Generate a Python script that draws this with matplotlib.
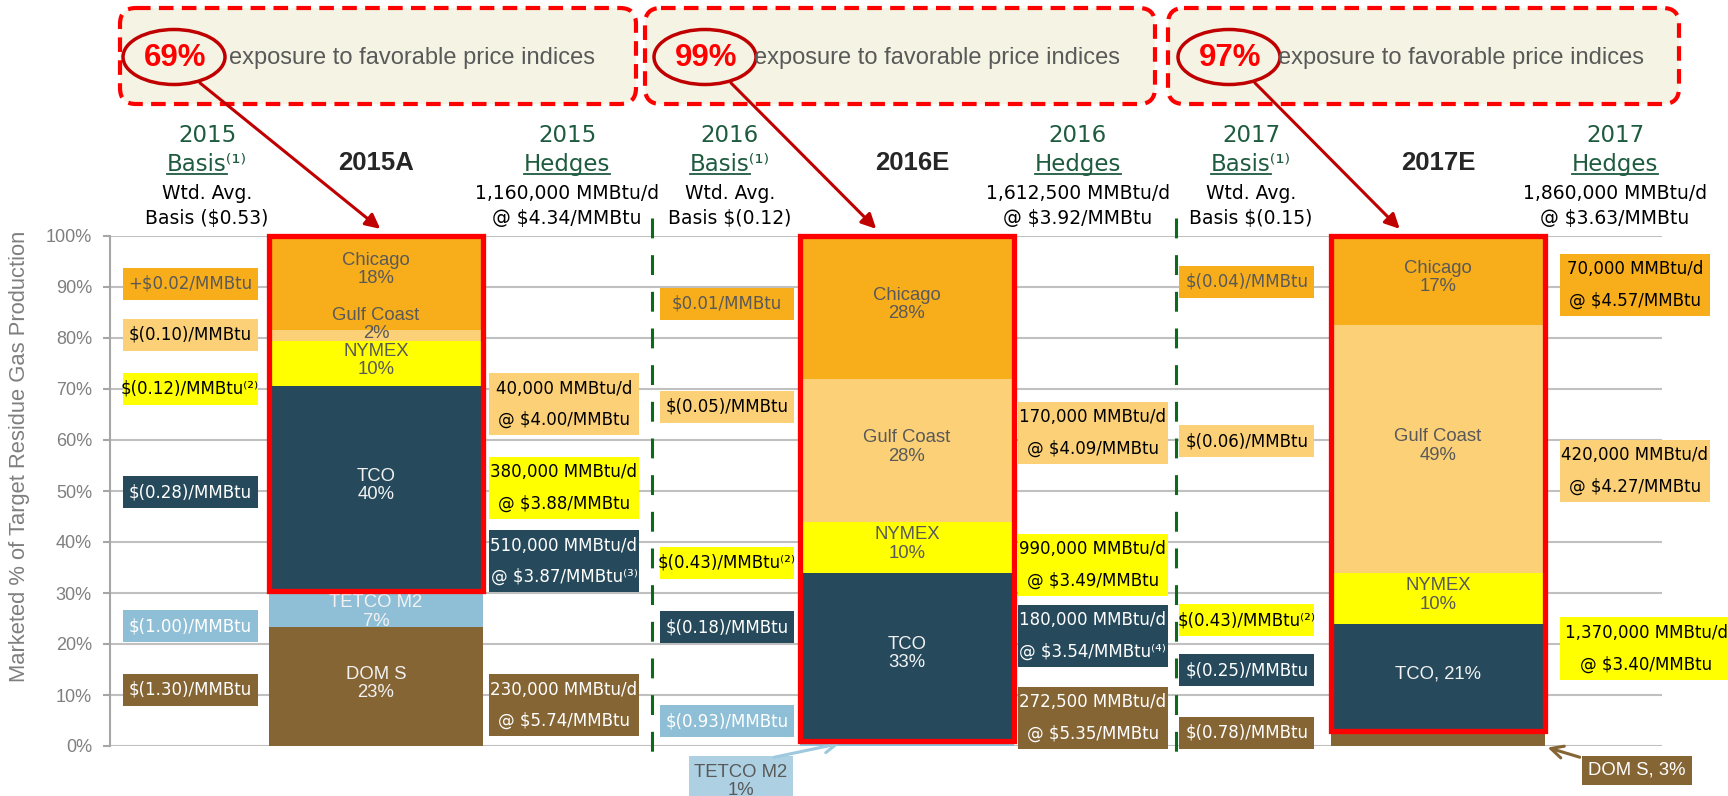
import numpy as np
import matplotlib
matplotlib.use("Agg")
import matplotlib.pyplot as plt
from matplotlib.patches import Rectangle, FancyBboxPatch, Ellipse

plt.rcParams['font.family'] = ['Liberation Sans', 'DejaVu Sans']

# ---------------- data ----------------
years = ["2015A", "2016E", "2017E"]
header_years = ["2015", "2016", "2017"]
exposure = ["69%", "99%", "97%"]

segments = ["DOM S", "TETCO M2", "TCO", "NYMEX", "Gulf Coast", "Chicago"]
dom_s = [23.3, 0.0, 3.0]
tetco_m2 = [7.1, 1.0, 0.0]
tco = [40.2, 33.0, 21.0]
nymex = [8.8, 10.0, 10.0]
gulf_coast = [2.2, 28.0, 48.5]
chicago = [18.4, 28.0, 17.5]

labels_2015 = ["DOM S\n23%", "TETCO M2\n7%", "TCO\n40%", "NYMEX\n10%", "Gulf Coast\n2%", "Chicago\n18%"]
labels_2016 = ["", "", "TCO\n33%", "NYMEX\n10%", "Gulf Coast\n28%", "Chicago\n28%"]
labels_2017 = ["", "", "TCO, 21%", "NYMEX\n10%", "Gulf Coast\n49%", "Chicago\n17%"]

wtd_avg_basis = ["Basis ($0.53)", "Basis $(0.12)", "Basis $(0.15)"]
hedge_volume = ["1,160,000 MMBtu/d", "1,612,500 MMBtu/d", "1,860,000 MMBtu/d"]
hedge_price = ["@ $4.34/MMBtu", "@ $3.92/MMBtu", "@ $3.63/MMBtu"]

basis_2015 = ["+$0.02/MMBtu", "$(0.10)/MMBtu", "$(0.12)/MMBtu⁽²⁾", "$(0.28)/MMBtu",
              "$(1.00)/MMBtu", "$(1.30)/MMBtu"]
basis_2015_index = ["Chicago", "Gulf Coast", "NYMEX", "TCO", "TETCO M2", "DOM S"]
basis_2016 = ["$0.01/MMBtu", "$(0.05)/MMBtu", "$(0.43)/MMBtu⁽²⁾", "$(0.18)/MMBtu", "$(0.93)/MMBtu"]
basis_2016_index = ["Chicago", "Gulf Coast", "NYMEX", "TCO", "TETCO M2"]
basis_2017 = ["$(0.04)/MMBtu", "$(0.06)/MMBtu", "$(0.43)/MMBtu⁽²⁾", "$(0.25)/MMBtu", "$(0.78)/MMBtu"]
basis_2017_index = ["Chicago", "Gulf Coast", "NYMEX", "TCO", "DOM S"]

hedges_2015 = ["40,000 MMBtu/d\n@ $4.00/MMBtu", "380,000 MMBtu/d\n@ $3.88/MMBtu",
               "510,000 MMBtu/d\n@ $3.87/MMBtu⁽³⁾", "230,000 MMBtu/d\n@ $5.74/MMBtu"]
hedges_2015_index = ["Gulf Coast", "NYMEX", "TCO", "DOM S"]
hedges_2016 = ["170,000 MMBtu/d\n@ $4.09/MMBtu", "990,000 MMBtu/d\n@ $3.49/MMBtu",
               "180,000 MMBtu/d\n@ $3.54/MMBtu⁽⁴⁾", "272,500 MMBtu/d\n@ $5.35/MMBtu"]
hedges_2016_index = ["Gulf Coast", "NYMEX", "TCO", "DOM S"]
hedges_2017 = ["70,000 MMBtu/d\n@ $4.57/MMBtu", "420,000 MMBtu/d\n@ $4.27/MMBtu",
               "1,370,000 MMBtu/d\n@ $3.40/MMBtu"]
hedges_2017_index = ["Chicago", "Gulf Coast", "NYMEX"]

# ---------------- layout / style ----------------
colors = {"DOM S": "#866535", "TETCO M2": "#8FBFD6", "TCO": "#264A5C",
          "NYMEX": "#FFFF00", "Gulf Coast": "#FBD077", "Chicago": "#F8AE1A"}
seg_text = {"DOM S": "#F2F2F2", "TETCO M2": "#F2F2F2", "TCO": "#F2F2F2",
            "NYMEX": "#595959", "Gulf Coast": "#595959", "Chicago": "#595959"}
basis_text = {"DOM S": "white", "TETCO M2": "white", "TCO": "white",
              "NYMEX": "black", "Gulf Coast": "black", "Chicago": "#595959"}
hedge_text = {"DOM S": "white", "TETCO M2": "white", "TCO": "white",
              "NYMEX": "black", "Gulf Coast": "black", "Chicago": "black"}
label_shift = {(0, 5): 2.0, (0, 4): 1.5, (0, 1): -1.2}

basis_y = [[90.6, 80.6, 70.0, 49.8, 23.5, 11.0],
           [86.7, 66.5, 35.9, 23.3, 4.9],
           [91.0, 59.8, 24.7, 14.9, 2.6]]
hedge_y = [[67.0, 50.6, 36.2, 8.0],
           [61.4, 35.5, 21.6, 5.5],
           [90.4, 53.9, 19.1]]
hedge_w = [[0.282] * 4, [0.282] * 4, [0.282, 0.282, 0.324]]
basis_dx = [-0.350, -0.339, -0.360]
hedge_dx = [0.354, 0.350, 0.371]
separators = [0.52, 1.507]
green = "#1E5B3F"
gray = "#7F7F7F"

W, H = 1728, 796
fig = plt.figure(figsize=(W / 100, H / 100), dpi=100)
ax = fig.add_axes([110 / W, 1 - 746 / H, (1662 - 110) / W, (746 - 236) / H])
ax.set_xlim(-0.501, 2.422)
ax.set_ylim(0, 100)

x = np.arange(len(years))
width = 0.403
stack = [dom_s, tetco_m2, tco, nymex, gulf_coast, chicago]
seg_labels = [labels_2015, labels_2016, labels_2017]
bottom = np.zeros(len(years))
for k, (name, vals) in enumerate(zip(segments, stack)):
    vals = np.array(vals)
    ax.bar(x, vals, width, bottom=bottom, color=colors[name], lw=0, zorder=2)
    for i in range(len(years)):
        lab = seg_labels[i][k]
        if lab:
            yc = bottom[i] + vals[i] / 2 + 0.6 + label_shift.get((i, k), 0)
            ax.text(x[i], yc, lab, ha='center', va='center', fontsize=13.3,
                    color=seg_text[name], linespacing=1.1, zorder=3)
    bottom += vals

# red frames round the favourable indices
frame_base = np.array(dom_s) + np.array(tetco_m2)
for i in range(len(years)):
    ax.add_patch(Rectangle((x[i] - width / 2, frame_base[i]), width, 100 - frame_base[i],
                           fill=False, ec='#FF0000', lw=3.8, zorder=4, clip_on=False,
                           joinstyle='miter'))


def label_box(xc, yc, w, h, text, face, tcolor, ls=1.2):
    ax.add_patch(Rectangle((xc - w / 2, yc - h / 2), w, h, fc=face, ec='none',
                           zorder=3, clip_on=False))
    ax.text(xc, yc, text, ha='center', va='center', color=tcolor, fontsize=12,
            family='DejaVu Sans', linespacing=ls, zorder=5, clip_on=False)


basis_all = [(basis_2015, basis_2015_index), (basis_2016, basis_2016_index),
             (basis_2017, basis_2017_index)]
hedge_all = [(hedges_2015, hedges_2015_index), (hedges_2016, hedges_2016_index),
             (hedges_2017, hedges_2017_index)]
for i in range(len(years)):
    for j, (txt, idx) in enumerate(zip(*basis_all[i])):
        label_box(x[i] + basis_dx[i], basis_y[i][j], 0.254, 6.3, txt, colors[idx], basis_text[idx])
    for j, (txt, idx) in enumerate(zip(*hedge_all[i])):
        w = hedge_w[i][j]
        label_box(x[i] + hedge_dx[i] + (w - 0.282) / 2, hedge_y[i][j], w, 12.2, txt,
                  colors[idx], hedge_text[idx], ls=1.95)

# callouts below the axis
ax.add_patch(Rectangle((0.589, -14), 0.196, 12.0, fc='#ADD1E3', ec='none', clip_on=False, zorder=3))
ax.text(0.687, -7.0, "TETCO M2\n1%", ha='center', va='center', fontsize=13.3, color='#595959',
        linespacing=1.1, clip_on=False, zorder=5)
ax.annotate('', xy=(x[1] - width / 2 + 0.075, tetco_m2[1] / 2), xytext=(0.75, -2.2),
            arrowprops=dict(arrowstyle='->', color='#9DC8DD', lw=2.2, mutation_scale=22,
                            shrinkA=0, shrinkB=0), annotation_clip=False)
ax.add_patch(Rectangle((2.271, -7.65), 0.207, 5.69, fc=colors["DOM S"], ec='none', clip_on=False, zorder=3))
ax.text(2.3745, -4.8, "DOM S, 3%", ha='center', va='center', fontsize=13.3, color='white',
        clip_on=False, zorder=5)
ax.annotate('', xy=(x[2] + width / 2 + 0.005, dom_s[2] / 2 - 1.8), xytext=(2.267, -2.2),
            arrowprops=dict(arrowstyle='->', color=colors["DOM S"], lw=2.2, mutation_scale=22,
                            shrinkA=0, shrinkB=0), annotation_clip=False)

# green dashed separators
for s in separators:
    ax.plot([s, s], [103.5, -1.8], color='#0B6B1A', lw=2.2, dashes=(6.5, 5.5),
            clip_on=False, zorder=1)

# axis styling
ax.set_yticks(range(0, 101, 10))
ax.set_yticklabels([f"{v}%" for v in range(0, 101, 10)], fontsize=13, color=gray)
ax.set_xticks([])
ax.yaxis.grid(True, color='#C0C0C0', lw=1.5)
ax.set_axisbelow(True)
for s in ['top', 'right', 'bottom']:
    ax.spines[s].set_visible(False)
ax.spines['left'].set_color('#A6A6A6')
ax.spines['left'].set_linewidth(1.5)
ax.tick_params(axis='y', length=5, width=1.5, color='#A6A6A6', pad=8)
fig.text(20 / W, 1 - 456 / H, "Marketed % of Target Residue Gas Production", rotation=90,
         ha='center', va='center', fontsize=15.8, color=gray)

# ---------------- header overlay (pixel coordinates) ----------------
ov = fig.add_axes([0, 0, 1, 1], zorder=5)
ov.set_xlim(0, W)
ov.set_ylim(H, 0)
ov.axis('off')
r = fig.canvas.get_renderer()

top_boxes = [(120, 636), (645, 1155), (1168, 1679)]
ellipse_x = [174, 705, 1229]
phrase_x = [229, 754, 1278]
tip_dx = [0.008, -0.058, -0.072]
basis_hx = [207, 730, 1251]
hedge_hx = [567, 1078, 1615]
bar_hx = [376, 912, 1438]

for i in range(len(years)):
    x0, x1 = top_boxes[i]
    ov.add_patch(FancyBboxPatch((x0, 8), x1 - x0, 96, boxstyle="round,pad=0,rounding_size=16",
                                fc='#F5F3E3', ec='#FF0000', lw=3, ls=(0, (3.5, 2))))
    ov.add_patch(Ellipse((ellipse_x[i], 57), 102, 55, fill=False, ec='#C00000', lw=2.5))
    ov.text(ellipse_x[i] + 1, 58, exposure[i], ha='center', va='center', fontsize=22.5,
            fontweight='bold', color='#FF0000')
    ov.text(phrase_x[i], 58, "exposure to favorable price indices", ha='left', va='center',
            fontsize=17, color='#595959')
    ov.annotate('', xy=(x[i] + tip_dx[i], 101.4), xycoords=ax.transData,
                xytext=(ellipse_x[i] + 26, 83), textcoords='data',
                arrowprops=dict(arrowstyle='-|>', color='#C00000', lw=2.2, mutation_scale=22,
                                shrinkA=0, shrinkB=0), annotation_clip=False)

    ov.text(bar_hx[i], 170, years[i], ha='center', va='baseline', fontsize=18.5,
            fontweight='bold', color='#262626')

    for cx, word, sup, l1, l2 in [(basis_hx[i], "Basis", "⁽¹⁾", "Wtd. Avg.", wtd_avg_basis[i]),
                                  (hedge_hx[i], "Hedges", "", hedge_volume[i], hedge_price[i])]:
        ov.text(cx, 142, header_years[i], ha='center', va='baseline', fontsize=16.5,
                color=green, family='DejaVu Sans')
        t = ov.text(cx, 171, word + sup, ha='center', va='baseline', fontsize=16.5,
                    color=green, family='DejaVu Sans')
        tw = ov.text(0, 0, word, fontsize=16.5, family='DejaVu Sans')
        full_w = t.get_window_extent(renderer=r).width
        word_w = tw.get_window_extent(renderer=r).width
        tw.remove()
        ov.plot([cx - full_w / 2, cx - full_w / 2 + word_w], [174, 174], color=green, lw=1.3)
        ov.text(cx, 199, l1, ha='center', va='baseline', fontsize=13.5, color='black',
                family='DejaVu Sans')
        ov.text(cx, 224, l2, ha='center', va='baseline', fontsize=13.5, color='black',
                family='DejaVu Sans')

fig.savefig('out.png', dpi=100)
